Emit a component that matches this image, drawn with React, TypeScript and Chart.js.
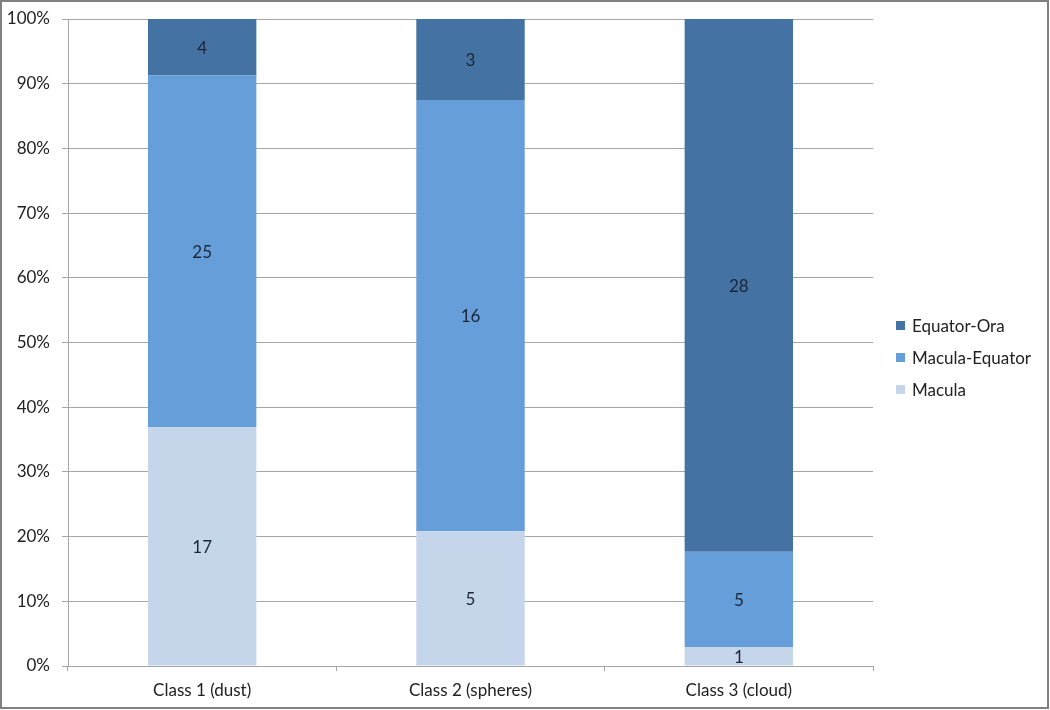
import React, { useEffect, useRef } from "react";
import { Chart, registerables } from "chart.js";

Chart.register(...registerables);

const categories = ["Class 1 (dust)", "Class 2 (spheres)", "Class 3 (cloud)"];
const seriesNames = ["Macula", "Macula-Equator", "Equator-Ora"];
const maculaCounts = [17, 5, 1];
const maculaEquatorCounts = [25, 16, 5];
const equatorOraCounts = [4, 3, 28];
const seriesColors = ["#c6d6ea", "#659ed9", "#4472a2"];
const yTicks = [0, 10, 20, 30, 40, 50, 60, 70, 80, 90, 100];

const FONT = "Lato, 'Open Sans', sans-serif";
const FSIZE = 17;

const countSeries = [maculaCounts, maculaEquatorCounts, equatorOraCounts];
const totals = categories.map((_, i) => countSeries.reduce((s, arr) => s + arr[i], 0));

export default function App() {
  const ref = useRef<HTMLCanvasElement>(null);
  useEffect(() => {
    if (!ref.current) return;
    const labelsPlugin = {
      id: "segLabels",
      afterDatasetsDraw(chart: any) {
        const ctx = chart.ctx;
        ctx.save();
        ctx.font = `${FSIZE}px ${FONT}`;
        ctx.fillStyle = "#1c2638";
        ctx.textAlign = "center";
        ctx.textBaseline = "middle";
        chart.data.datasets.forEach((ds: any, di: number) => {
          const meta = chart.getDatasetMeta(di);
          meta.data.forEach((el: any, i: number) => {
            const cy = (el.y + el.base) / 2;
            ctx.fillText(String(ds.counts[i]), el.x, cy + 1);
          });
        });
        ctx.restore();
      },
    };
    const framePlugin = {
      id: "frame",
      beforeDraw(chart: any) {
        const ctx = chart.ctx;
        ctx.save();
        ctx.fillStyle = "#ffffff";
        ctx.fillRect(0, 0, chart.width, chart.height);
        ctx.restore();
      },
      afterDraw(chart: any) {
        const ctx = chart.ctx;
        ctx.save();
        ctx.strokeStyle = "#808080";
        ctx.lineWidth = 2;
        ctx.strokeRect(1, 1, chart.width - 3, chart.height - 3);
        // legend
        const ds = chart.data.datasets;
        const x0 = 896;
        const yc = 359;
        const gap = 32;
        ctx.font = `${FSIZE}px ${FONT}`;
        ctx.textBaseline = "middle";
        ctx.textAlign = "left";
        for (let k = 0; k < ds.length; k++) {
          const d = ds[ds.length - 1 - k];
          const y = yc + (k - (ds.length - 1) / 2) * gap;
          ctx.fillStyle = d.backgroundColor;
          ctx.fillRect(x0, y - 6, 9, 9);
          ctx.fillStyle = "#222222";
          ctx.fillText(d.label, x0 + 16, y);
        }
        ctx.restore();
      },
    };
    const chart = new Chart(ref.current, {
      type: "bar",
      data: {
        labels: categories,
        datasets: countSeries.map((arr, si) => ({
          label: seriesNames[si],
          data: arr.map((v, i) => (v / totals[i]) * 100),
          counts: arr,
          backgroundColor: seriesColors[si],
          borderWidth: 0,
          barPercentage: 0.404,
          categoryPercentage: 1,
        })) as any,
      },
      options: {
        animation: false,
        responsive: false,
        layout: { padding: { left: 0, top: 19, right: 177, bottom: 0 } },
        plugins: { legend: { display: false }, tooltip: { enabled: false } },
        scales: {
          x: {
            stacked: true,
            grid: {
              offset: true,
              drawOnChartArea: false,
              drawTicks: true,
              tickLength: 5,
              color: "#a6a6a6",
            },
            border: { color: "#a6a6a6" },
            ticks: { color: "#222222", font: { family: FONT, size: FSIZE }, padding: 9 },
            afterFit: (s: any) => {
              s.height = 44;
            },
          },
          y: {
            stacked: true,
            min: 0,
            max: 100,
            afterBuildTicks: (s: any) => {
              s.ticks = yTicks.map((v) => ({ value: v }));
            },
            grid: { color: "#a6a6a6", tickLength: 6 },
            border: { color: "#a6a6a6" },
            ticks: {
              color: "#222222",
              font: { family: FONT, size: FSIZE },
              padding: 12,
              callback: (v: any) => `${v}%`,
            },
            afterFit: (s: any) => {
              s.width = 68;
              s.paddingTop = 0;
              s.paddingBottom = 0;
            },
          },
        },
      },
      plugins: [labelsPlugin, framePlugin],
    });
    return () => chart.destroy();
  }, []);
  return (
    <div style={{ position: "absolute", left: 0, top: 0, width: 1050, height: 710 }}>
      <canvas ref={ref} width={1050} height={710} style={{ width: 1050, height: 710, display: "block" }} />
    </div>
  );
}
